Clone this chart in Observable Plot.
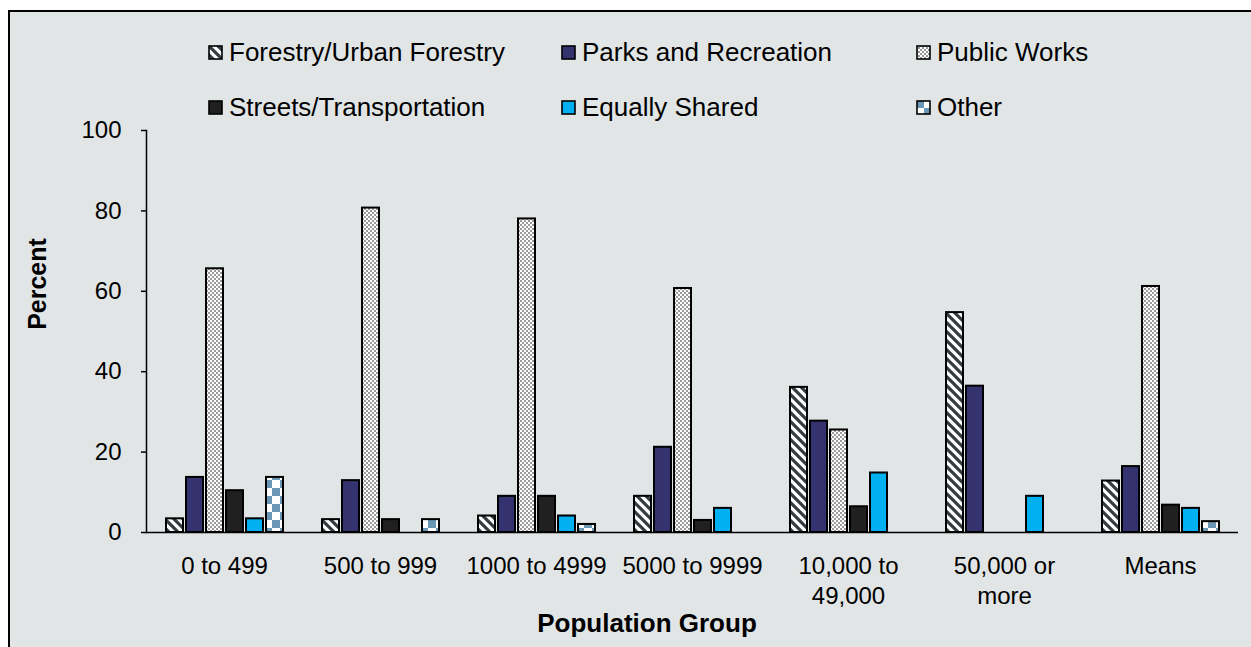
<!DOCTYPE html>
<html><head><meta charset="utf-8">
<script src="https://cdn.jsdelivr.net/npm/d3@7"></script>
<script src="https://cdn.jsdelivr.net/npm/@observablehq/plot@0.6"></script>
<style>
html,body{margin:0;padding:0;background:#fff;}
body{width:1251px;height:647px;overflow:hidden;position:relative;font-family:Arial,"Liberation Sans",sans-serif;color:#000;}
#panel{position:absolute;left:8px;top:10px;width:1300px;height:700px;background:#e1e5e6;border-left:2px solid #000;border-top:2px solid #000;}
.leg{position:absolute;display:flex;align-items:center;font-size:26px;white-space:nowrap;line-height:30px;}
.leg svg{margin-right:6px;}
#chart{position:absolute;left:0;top:120px;}
#ytitle{position:absolute;left:37px;top:284px;transform:translate(-50%,-50%) rotate(-90deg);font-weight:bold;font-size:25px;white-space:nowrap;}
#xtitle{position:absolute;left:647px;top:623px;transform:translate(-50%,-50%);font-weight:bold;font-size:26px;white-space:nowrap;}
</style>
</head><body>
<div id="panel"></div>
<div id="legend"></div>
<div id="chart"></div>
<div id="ytitle">Percent</div>
<div id="xtitle">Population Group</div>
<script>
const groups = ["0 to 499","500 to 999","1000 to 4999","5000 to 9999","10,000 to 49,000","50,000 or more","Means"];
const groupLabels = ["0 to 499","500 to 999","1000 to 4999","5000 to 9999","10,000 to\n49,000","50,000 or\nmore","Means"];
const series = ["Forestry/Urban Forestry","Parks and Recreation","Public Works","Streets/Transportation","Equally Shared","Other"];
const forestry    = [3.4, 3.2, 4.1, 9.0, 36.1, 54.7, 12.8];
const parks       = [13.7, 12.9, 9.0, 21.2, 27.7, 36.4, 16.4];
const publicWorks = [65.6, 80.7, 78.0, 60.7, 25.5, 0, 61.2];
const streets     = [10.4, 3.2, 9.0, 3.0, 6.4, 0, 6.8];
const equally     = [3.4, 0, 4.1, 6.0, 14.8, 9.0, 6.0];
const other       = [13.7, 3.2, 2.0, 0, 0, 0, 2.7];
const yTicks = [0, 20, 40, 60, 80, 100];

const seriesValues = [forestry, parks, publicWorks, streets, equally, other];
const fills = ["url(#pForest)", "#35336f", "url(#pPublic)", "#202020", "#00b0f0", "url(#pOther)"];

const rows = [];
groups.forEach((g, gi) => series.forEach((s, si) => {
  const v = seriesValues[si][gi];
  if (v > 0) rows.push({group: g, series: s, value: v});
}));

const chart = Plot.plot({
  width: 1251, height: 480,
  marginLeft: 146, marginRight: 13, marginTop: 10, marginBottom: 68,
  style: {background: "transparent", overflow: "visible", fontFamily: "Arial, 'Liberation Sans', sans-serif", color: "#000"},
  fx: {domain: groups, padding: 0, label: null},
  x: {domain: series, axis: null, paddingInner: 0.17, paddingOuter: 0.8},
  y: {domain: [0, 100], label: null},
  color: {domain: series, range: fills},
  marks: [
    Plot.axisY({ticks: yTicks, tickSize: 5, tickPadding: 20, fontSize: 24, label: null, strokeWidth: 1.5}),
    Plot.axisFx({anchor: "bottom", tickSize: 0, tickPadding: 20, fontSize: 24, lineHeight: 1.25, label: null,
                 tickFormat: d => groupLabels[groups.indexOf(d)]}),
    Plot.frame({anchor: "left", facetAnchor: "left", strokeWidth: 1.5}),
    Plot.ruleY([0], {strokeWidth: 1.5}),
    Plot.barY(rows, {fx: "group", x: "series", y: "value", fill: "series", stroke: "#000", strokeWidth: 2})
  ]
});

const defs = `
<pattern id="pForest" patternUnits="userSpaceOnUse" width="9" height="9">
  <rect width="9" height="9" fill="#ffffff"/>
  <path d="M0,0L9,9M-2,7L2,11M7,-2L11,2" stroke="#343c40" stroke-width="3.2"/>
</pattern>
<pattern id="pPublic" patternUnits="userSpaceOnUse" width="4" height="4">
  <rect width="4" height="4" fill="#ffffff"/>
  <rect width="2" height="2" fill="#9a9a9a"/>
  <rect x="2" y="2" width="2" height="2" fill="#9a9a9a"/>
</pattern>
<pattern id="pOther" patternUnits="userSpaceOnUse" width="16" height="16">
  <rect width="16" height="16" fill="#ffffff"/>
  <rect width="8" height="8" fill="#6a97b3"/>
  <rect x="8" y="8" width="8" height="8" fill="#6a97b3"/>
</pattern>`;
const d = document.createElementNS("http://www.w3.org/2000/svg", "defs");
d.innerHTML = defs;
chart.insertBefore(d, chart.firstChild);
document.getElementById("chart").appendChild(chart);

// legend
const legPos = [[208, 52], [561, 52], [916, 52], [208, 107], [561, 107], [916, 107]];
const legend = document.getElementById("legend");
series.forEach((s, i) => {
  const div = document.createElement("div");
  div.className = "leg";
  div.style.left = legPos[i][0] + "px";
  div.style.top = (legPos[i][1] - 15) + "px";
  div.innerHTML = `<svg width="15" height="15"><rect x="1" y="1" width="13" height="13" fill="${fills[i]}" stroke="#000" stroke-width="1.6"/></svg><span>${s}</span>`;
  legend.appendChild(div);
});
</script>
</body></html>
